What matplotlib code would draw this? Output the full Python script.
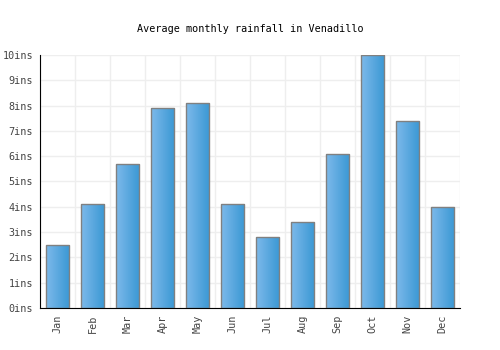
import numpy as np
import matplotlib.pyplot as plt
import matplotlib.colors as mcolors

months = ["Jan", "Feb", "Mar", "Apr", "May", "Jun", "Jul", "Aug", "Sep", "Oct", "Nov", "Dec"]
rainfall = [2.5, 4.1, 5.7, 7.9, 8.1, 4.1, 2.8, 3.4, 6.1, 10.0, 7.4, 4.0]
yticks = list(range(0, 11))
ylabels = ["%dins" % v for v in yticks]

plt.rcParams['font.family'] = ['DejaVu Sans Mono']

fig = plt.figure(figsize=(5, 3.5), dpi=100)
ax = fig.add_axes([0.08, 0.12, 0.84, 0.723])

x = np.arange(len(months))
width = 0.68
bars = ax.bar(x, rainfall, width=width, color='none', edgecolor='#808080', linewidth=1, zorder=3)

# horizontal gradient fill, clipped to each bar
cmap = mcolors.LinearSegmentedColormap.from_list('rain', ['#7db9ea', '#3a98d4'])
grad = np.linspace(0, 1, 64).reshape(1, -1)
for b in bars:
    x0, y0 = b.get_x(), b.get_y()
    im = ax.imshow(grad, cmap=cmap, aspect='auto', zorder=2,
                   extent=[x0, x0 + b.get_width(), y0, y0 + b.get_height()])
    im.set_clip_path(b)

ax.set_xlim(-0.5, len(months) - 0.5)
ax.set_ylim(0, 10)
ax.set_xticks(x)
ax.set_xticklabels(months, rotation=90, fontsize=7.3, color='#444444')
ax.set_yticks(yticks)
ax.set_yticklabels(ylabels, fontsize=7.3, color='#444444')
ax.set_xticks(np.arange(-0.5, len(months), 1), minor=True)
ax.tick_params(which='both', length=0, pad=5)
ax.grid(True, which='minor', axis='x', color='#eeeeee', linewidth=1, zorder=0)
ax.grid(True, which='major', axis='y', color='#eeeeee', linewidth=1, zorder=0)
ax.set_axisbelow(True)
for s in ['top', 'right']:
    ax.spines[s].set_visible(False)
ax.spines['left'].set_color('black')
ax.spines['bottom'].set_color('black')

fig.text(0.5, 0.91, "Average monthly rainfall in Venadillo", ha='center', fontsize=7.3)

fig.savefig('out.png', dpi=100)
